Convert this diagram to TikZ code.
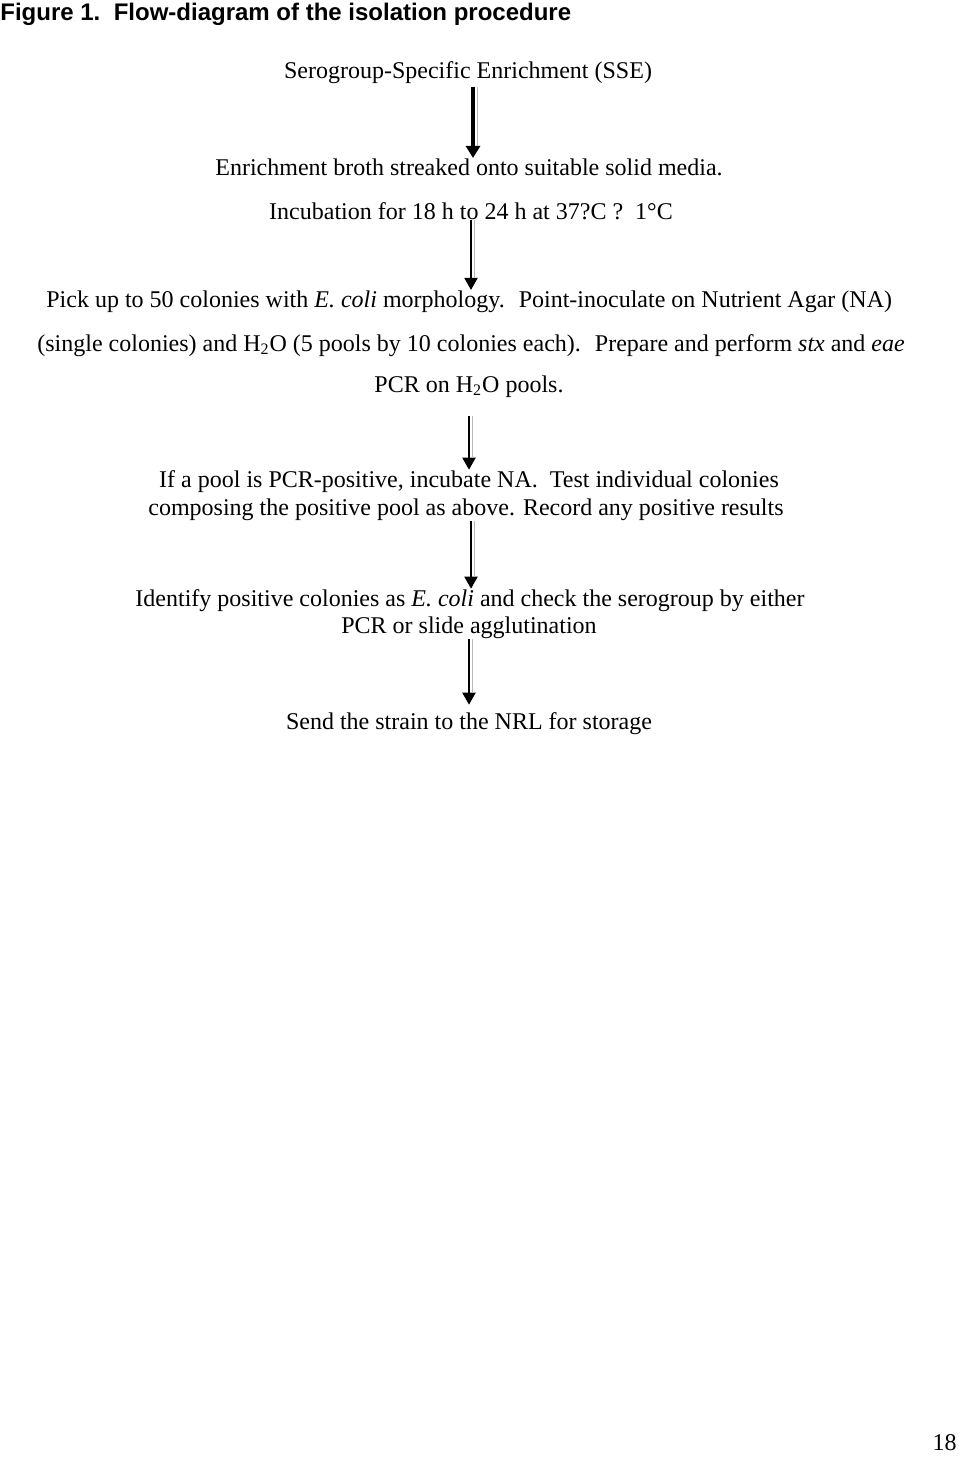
\documentclass[tikz,border=0pt]{standalone}
\usepackage{fontspec}
\setmainfont{Liberation Serif}
\newfontfamily\titlefont{Liberation Sans}
\usetikzlibrary{arrows.meta}

\tikzset{
  steptext/.style={inner sep=0pt, anchor=base},
  flowthick/.style={line width=2pt, -{Triangle[width=7pt,length=6pt]}},
  flowthin/.style={line width=1pt, -{Triangle[width=6.5pt,length=6pt]}},
  shadow/.style={gray!55, line width=0.4pt}
}

\begin{document}
\begin{tikzpicture}[x=0.5pt, y=-0.5pt, every node/.style={font=\fontsize{12}{14}\selectfont}]
    \useasboundingbox (0,0) rectangle (960,1457);

    % Title
    \node[steptext, anchor=base west, font=\titlefont\bfseries\fontsize{12}{14}\selectfont\frenchspacing] (title) at (0,20)
        {Figure 1.\ \ Flow-diagram of the isolation procedure};

    % Steps
    \node[steptext] (sse) at (468,78) {Serogroup-Specific Enrichment (SSE)};
    \node[steptext] (broth) at (469,175) {Enrichment broth streaked onto suitable solid media.};
    \node[steptext] (incub) at (471,219) {Incubation for 18 h to 24 h at 37?C ?~ 1°C};
    \node[steptext, anchor=base west] (pick1) at (46,307)
        {Pick up to 50 colonies with \textit{E. coli} morphology.~ Point-inoculate on Nutrient Agar (NA)};
    \node[steptext, anchor=base west] (pick2) at (37,351)
        {(single colonies) and H\textsubscript{2}O (5 pools by 10 colonies each).~ Prepare and perform \textit{stx} and \textit{eae}};
    \node[steptext] (pick3) at (469,392) {PCR on H\textsubscript{2}O pools.};
    \node[steptext] (pool1) at (469,487) {If a pool is PCR-positive, incubate NA.~ Test individual colonies};
    \node[steptext] (pool2) at (466,515) {composing the positive pool as above. Record any positive results};
    \node[steptext] (ident1) at (470,606) {Identify positive colonies as \textit{E. coli} and check the serogroup by either};
    \node[steptext] (ident2) at (469,633) {PCR or slide agglutination};
    \node[steptext] (send) at (469,729) {Send the strain to the NRL for storage};

    % Page number
    \node[steptext, anchor=base east] (page) at (957,1450) {18};

    % First arrow (heavy)
    \draw[flowthick, shorten <=1.5pt] (sse.south -| 473,0) -- (broth.north -| 473,0);
    \draw[shadow, shorten <=1.5pt, shorten >=6pt] ([xshift=2pt]sse.south -| 473,0) -- ([xshift=2pt]broth.north -| 473,0);

    % Remaining arrows
    \foreach \from/\to/\ax/\sa/\sb in {incub/pick1/471/0/0, pick3/pool1/469/9/0, pool2/ident1/471/0/0, ident2/send/469/0/3.5} {
        \draw[flowthin, shorten <=\sa pt, shorten >=\sb pt] (\from.south -| \ax,0) -- (\to.north -| \ax,0);
        \draw[shadow, shorten <=\sa pt, shorten >=\sb pt+6pt] ([xshift=1.5pt]\from.south -| \ax,0) -- ([xshift=1.5pt]\to.north -| \ax,0);
    }
\end{tikzpicture}
\end{document}
